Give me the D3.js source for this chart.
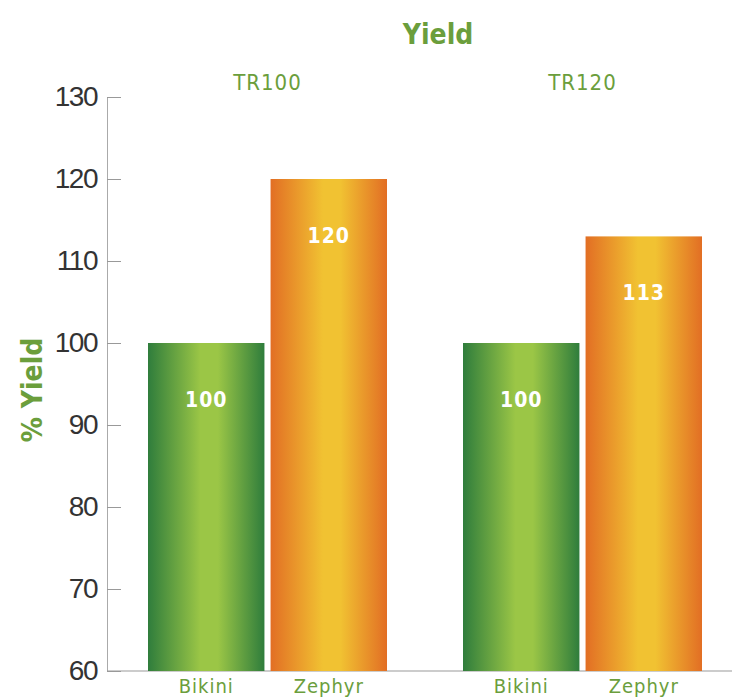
<!DOCTYPE html>
<html>
<head>
<meta charset="utf-8">
<title>Yield</title>
<script src="https://cdn.jsdelivr.net/npm/d3@7"></script>
<style>
    body { margin: 0; background: #fff; }
    .tick text { font-family: "Liberation Sans", sans-serif; font-size: 28px; fill: #333; letter-spacing: -1.5px; }
    .green { fill: #6b9e3c; font-family: "DejaVu Sans Condensed", "DejaVu Sans", sans-serif; }
</style>
</head>
<body>
<script>
    var groups = ["TR100", "TR120"];
    var varieties = ["Bikini", "Zephyr"];
    var values = [[100, 120], [100, 113]];
    var yTicks = [60, 70, 80, 90, 100, 110, 120, 130];

    var width = 732, height = 697;
    var svg = d3.select("body").append("svg")
        .attr("width", width).attr("height", height);

    var y = d3.scaleLinear().domain([60, 130]).range([671, 97]);
    var x0 = d3.scaleBand().domain(groups).range([110, 740]);
    var x1 = d3.scaleBand().domain(varieties).range([38, 277]).paddingInner(0.05);

    var defs = svg.append("defs");
    function grad(id, edge, mid) {
        var g = defs.append("linearGradient").attr("id", id)
            .attr("x1", "0%").attr("x2", "100%").attr("y1", "0%").attr("y2", "0%");
        g.append("stop").attr("offset", "0%").attr("stop-color", edge);
        g.append("stop").attr("offset", "45%").attr("stop-color", mid);
        g.append("stop").attr("offset", "60%").attr("stop-color", mid);
        g.append("stop").attr("offset", "100%").attr("stop-color", edge);
    }
    grad("gBikini", "#2f7d3c", "#9bc646");
    grad("gZephyr", "#e26e24", "#f1c232");

    // axis
    var axis = d3.axisLeft(y).tickValues(yTicks).tickSize(0).tickPadding(10);
    var ag = svg.append("g").attr("transform", "translate(107,0)").call(axis);
    ag.select(".domain").attr("stroke", "#aaa");
    ag.selectAll(".tick line").attr("x2", 14).attr("stroke", "#999");

    svg.append("line").attr("x1", 107).attr("x2", 732)
        .attr("y1", y(60)).attr("y2", y(60)).attr("stroke", "#999");

    groups.forEach(function (g, gi) {
        var gg = svg.append("g").attr("transform", "translate(" + x0(g) + ",0)");
        gg.append("text").attr("class", "green")
            .attr("x", x0.bandwidth() / 2).attr("y", 90)
            .attr("text-anchor", "middle").attr("font-size", 22)
            .attr("letter-spacing", 1)
            .text(g);
        varieties.forEach(function (v, vi) {
            var val = values[gi][vi];
            gg.append("rect")
                .attr("x", x1(v)).attr("width", x1.bandwidth())
                .attr("y", y(val)).attr("height", y(60) - y(val))
                .attr("fill", "url(#g" + v + ")");
            gg.append("text")
                .attr("x", x1(v) + x1.bandwidth() / 2).attr("y", y(val) + 64)
                .attr("text-anchor", "middle").attr("fill", "#fff")
                .attr("font-family", "DejaVu Sans Condensed, sans-serif")
                .attr("font-size", 21).attr("font-weight", 600)
                .attr("letter-spacing", 1).text(val);
            gg.append("text").attr("class", "green")
                .attr("x", x1(v) + x1.bandwidth() / 2).attr("y", 693)
                .attr("text-anchor", "middle").attr("font-size", 20)
                .attr("letter-spacing", 1)
                .text(v);
        });
    });

    svg.append("text").attr("class", "green")
        .attr("x", 438).attr("y", 44).attr("text-anchor", "middle")
        .attr("font-size", 28).attr("font-weight", "bold").text("Yield");

    svg.append("text").attr("class", "green")
        .attr("transform", "translate(42,390) rotate(-90)")
        .attr("text-anchor", "middle").attr("font-size", 28)
        .attr("font-weight", "bold").text("% Yield");
</script>
</body>
</html>
